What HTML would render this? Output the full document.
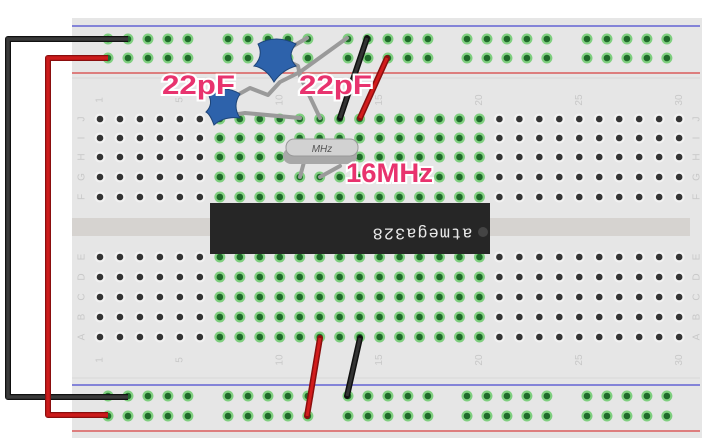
<!DOCTYPE html>
<html><head><meta charset="utf-8"><style>
html,body{margin:0;padding:0;background:#fff;width:720px;height:445px;overflow:hidden}
</style></head><body>
<svg id="s" width="720" height="445" xmlns="http://www.w3.org/2000/svg" font-family="Liberation Sans, sans-serif">
<rect x="72" y="18" width="630" height="420" fill="#e6e6e6"/>
<line x1="72" y1="26" x2="700" y2="26" stroke="#4a4ad0" stroke-width="1.2"/>
<line x1="72" y1="73" x2="700" y2="73" stroke="#d84040" stroke-width="1.2"/>
<line x1="72" y1="385" x2="700" y2="385" stroke="#4a4ad0" stroke-width="1.2"/>
<line x1="72" y1="431" x2="700" y2="431" stroke="#d84040" stroke-width="1.2"/>
<line x1="72" y1="78" x2="700" y2="78" stroke="#d8d8d8" stroke-width="1"/>
<line x1="72" y1="378" x2="700" y2="378" stroke="#d8d8d8" stroke-width="1"/>
<rect x="72" y="218" width="618" height="18" fill="#d6d3d0"/>
<g id="dots"></g>
<g id="lbl" fill="#c8c8c8" font-size="10"></g>
<!-- chip -->
<rect x="210" y="203" width="280" height="51" fill="#262626"/>
<circle cx="483" cy="232" r="5" fill="#444"/>
<text transform="translate(422,233) rotate(180)" fill="#e8e8e8" font-family="Liberation Mono, monospace" font-size="17" letter-spacing="1" text-anchor="middle" dominant-baseline="middle">atmega328</text>
<!-- long wires -->
<polyline points="128,39 8,39 8,397 128,397" fill="none" stroke="#111" stroke-width="6" stroke-linejoin="round"/>
<polyline points="128,39 8,39 8,397 128,397" fill="none" stroke="#3a3a3a" stroke-width="3.5"/>
<polyline points="108,58 48,58 48,415 108,415" fill="none" stroke="#8a0e0e" stroke-width="6" stroke-linejoin="round"/>
<polyline points="108,58 48,58 48,415 108,415" fill="none" stroke="#cc1b1b" stroke-width="3.5"/>
<!-- short wires -->
<line x1="367" y1="38" x2="340" y2="118" stroke="#111" stroke-width="6" stroke-linecap="round"/>
<line x1="367" y1="38" x2="340" y2="118" stroke="#333" stroke-width="3"/>
<line x1="387" y1="58" x2="360" y2="118" stroke="#8a0e0e" stroke-width="6" stroke-linecap="round"/>
<line x1="387" y1="58" x2="360" y2="118" stroke="#d21c1c" stroke-width="3"/>
<line x1="320" y1="338" x2="307" y2="416" stroke="#8a0e0e" stroke-width="6" stroke-linecap="round"/>
<line x1="320" y1="338" x2="307" y2="416" stroke="#d21c1c" stroke-width="3"/>
<line x1="360" y1="338" x2="347" y2="396" stroke="#111" stroke-width="6" stroke-linecap="round"/>
<line x1="360" y1="338" x2="347" y2="396" stroke="#333" stroke-width="3"/>
<!-- cap leads -->
<g fill="none" stroke="#9a9a9a" stroke-width="4" stroke-linecap="round" stroke-linejoin="round">
<polyline points="278,55 307,38"/>
<polyline points="285,60 298,66 300,76 320,118"/>
<polyline points="347,38 300,72 280,82 268,95 250,88 232,98"/>
<polyline points="232,115 245,113 300,118"/>
<polyline points="300,177 304,162"/>
<polyline points="320,177 340,166"/>
</g>
<!-- caps -->
<path d="M258,44 Q276,34 296,44 Q286,56 296,66 Q282,70 274,82 Q266,68 254,66 Q264,56 258,44Z" fill="#2d62ab" stroke="#1d4478" stroke-width="1"/>
<path d="M208,94 Q224,84 240,94 Q232,106 240,118 Q224,116 214,125 Q210,114 206,112 Q214,104 208,94Z" fill="#2d62ab" stroke="#1d4478" stroke-width="1"/>
<!-- crystal -->
<rect x="283" y="148" width="74" height="16" rx="8" fill="#a8a8a8"/>
<rect x="286" y="139" width="72" height="17" rx="8" fill="#d2d2d2" stroke="#999" stroke-width="1"/>
<text x="322" y="152" font-size="10" font-style="italic" fill="#555" text-anchor="middle">MHz</text>
<!-- labels -->
<g font-size="27" font-weight="bold" fill="#e8336e" stroke="#fff" stroke-width="4" paint-order="stroke">
<text x="162" y="94" textLength="73" lengthAdjust="spacingAndGlyphs">22pF</text>
<text x="299" y="94" textLength="73" lengthAdjust="spacingAndGlyphs">22pF</text>
<text x="346" y="182" textLength="87" lengthAdjust="spacingAndGlyphs">16MHz</text>
</g>
</svg>
<script>
var NS="http://www.w3.org/2000/svg",d=document.getElementById("dots"),L=document.getElementById("lbl");
function dot(x,y,g){var h=document.createElementNS(NS,"circle");h.setAttribute("cx",x);h.setAttribute("cy",y);h.setAttribute("r",5.5);h.setAttribute("fill",g?"#7fcf7f":"#f2f2f2");d.appendChild(h);
var c=document.createElementNS(NS,"circle");c.setAttribute("cx",x);c.setAttribute("cy",y);c.setAttribute("r",3.3);c.setAttribute("fill",g?"#1f6a2a":"#333");d.appendChild(c);}
var P=19.97;
var rows=[119,138,157,177,197,257,277,297,317,337];
for(var c=0;c<30;c++){var x=100+c*P;for(var r=0;r<10;r++){dot(x,rows[r],c>=6&&c<=19);}}
var gs=[108,228,348,467,587];
[39,58,396,416].forEach(function(y){gs.forEach(function(g){for(var k=0;k<5;k++)dot(g+k*P,y,true);});});
function t(x,y,s){var e=document.createElementNS(NS,"text");e.setAttribute("transform","translate("+x+","+y+") rotate(-90)");e.setAttribute("text-anchor","middle");e.setAttribute("dominant-baseline","middle");e.textContent=s;L.appendChild(e);}
[[1,"1"],[5,"5"],[10,"10"],[15,"15"],[20,"20"],[25,"25"],[30,"30"]].forEach(function(a){var x=100+(a[0]-1)*P;t(x,100,a[1]);t(x,360,a[1]);});
"JIHGF".split("").forEach(function(s,i){t(82,rows[i],s);t(697,rows[i],s);});
"EDCBA".split("").forEach(function(s,i){t(82,rows[i+5],s);t(697,rows[i+5],s);});
</script>
</body></html>
